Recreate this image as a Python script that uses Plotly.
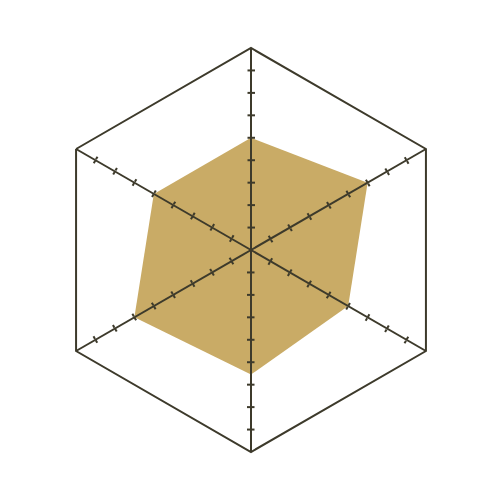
import plotly.graph_objects as go

# six spokes, clockwise from the top
axes_names = ["A", "B", "C", "D", "E", "F"]
values = [5, 6, 5, 5.55, 6, 5]
tick_values = [1, 2, 3, 4, 5, 6, 7, 8]
r_max = 9

line_col = "#3d3a2b"
fill_col = "#c9ab66"

fig = go.Figure()
fig.add_trace(go.Scatterpolar(
    r=values + values[:1],
    theta=axes_names + axes_names[:1],
    fill="toself",
    fillcolor=fill_col,
    line=dict(width=0, color=fill_col),
    mode="lines",
    hoverinfo="skip",
    subplot="polar",
))

dom = dict(x=[0, 1], y=[0, 1])
# page body adds 8px offset, so margins are shifted
layout = dict(
    width=500, height=500,
    margin=dict(l=41, r=55, t=40, b=56),
    paper_bgcolor="white",
    showlegend=False,
    polar=dict(
        domain=dom,
        bgcolor="rgba(0,0,0,0)",
        gridshape="linear",
        angularaxis=dict(
            rotation=90, direction="clockwise",
            showline=True, linecolor=line_col, linewidth=2,
            showgrid=False, ticks="", showticklabels=False,
        ),
        radialaxis=dict(
            range=[0, r_max], showline=False, showgrid=False,
            ticks="", showticklabels=False,
        ),
    ),
)

# spokes and tick marks: one overlay polar per spoke and tick side
spoke_angles = [90, 30, -30, -90, -150, 150]
n = 2
for ang in spoke_angles:
    for side in ["outside", "inside"]:
        name = f"polar{n}"
        layout[name] = dict(
            domain=dom,
            bgcolor="rgba(0,0,0,0)",
            gridshape="linear",
            angularaxis=dict(visible=False, rotation=0, direction="counterclockwise"),
            radialaxis=dict(
                range=[0, r_max], angle=ang, showgrid=False,
                showline=(side == "outside"), linecolor=line_col, linewidth=2,
                tickvals=tick_values, ticks=side, ticklen=3, tickwidth=1.5,
                tickcolor=line_col, showticklabels=False,
            ),
        )
        fig.add_trace(go.Scatterpolar(r=[], theta=[], subplot=name, hoverinfo="skip"))
        n += 1

fig.update_layout(**layout)
fig.write_html("out.html")
